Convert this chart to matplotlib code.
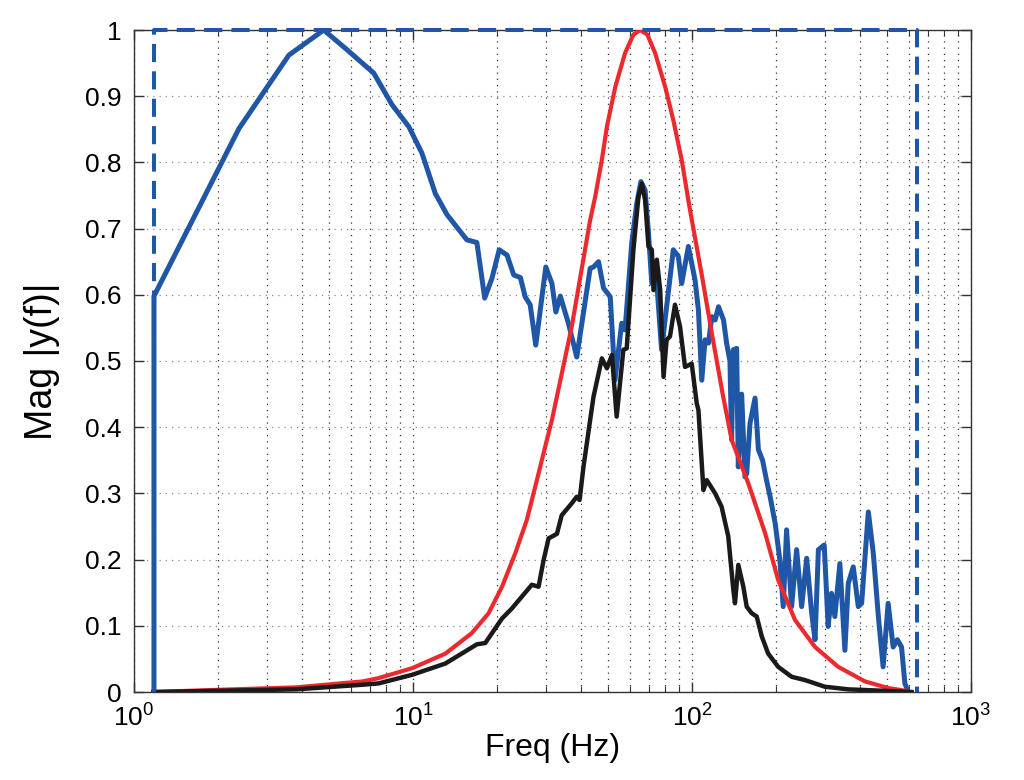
import matplotlib
matplotlib.use("Agg")
import matplotlib.pyplot as plt
from matplotlib.ticker import LogLocator, NullFormatter

plt.rcParams['font.family'] = ['Liberation Sans', 'DejaVu Sans']
plt.rcParams['mathtext.fontset'] = 'custom'
plt.rcParams['mathtext.rm'] = 'Liberation Sans'

# ---- data (log10 of frequency in Hz, magnitude) ----
blue_logf = [0.0716, 0.0716, 0.376, 0.555, 0.680, 0.764, 0.859, 0.925, 0.985, 1.032,
             1.080, 1.122, 1.193, 1.229, 1.257, 1.283, 1.309, 1.337, 1.361, 1.385,
             1.402, 1.420, 1.440, 1.476, 1.498, 1.512, 1.528, 1.557, 1.587, 1.635,
             1.647, 1.665, 1.683, 1.707, 1.724, 1.748, 1.760, 1.784, 1.802, 1.817,
             1.832, 1.844, 1.856, 1.873, 1.891, 1.909, 1.933, 1.951, 1.963, 1.987,
             2.011, 2.023, 2.035, 2.047, 2.059, 2.071, 2.083, 2.095, 2.113, 2.124,
             2.136, 2.142, 2.148, 2.160, 2.166, 2.178, 2.190, 2.196, 2.208, 2.226,
             2.238, 2.253, 2.267, 2.280, 2.298, 2.315, 2.327, 2.339, 2.357, 2.375,
             2.393, 2.411, 2.429, 2.441, 2.453, 2.474, 2.488, 2.500, 2.512, 2.530,
             2.548, 2.560, 2.578, 2.596, 2.608, 2.632, 2.650, 2.668, 2.685, 2.703,
             2.721, 2.736, 2.751, 2.763, 2.775]
blue_mag = [0.0, 0.598, 0.851, 0.962, 1.0, 0.970, 0.935, 0.887, 0.854, 0.814,
            0.753, 0.721, 0.683, 0.679, 0.595, 0.625, 0.668, 0.660, 0.630, 0.626,
            0.597, 0.585, 0.524, 0.642, 0.617, 0.574, 0.598, 0.557, 0.506, 0.640,
            0.642, 0.650, 0.610, 0.597, 0.471, 0.557, 0.547, 0.678, 0.738, 0.771,
            0.758, 0.693, 0.617, 0.622, 0.517, 0.582, 0.668, 0.658, 0.617, 0.673,
            0.622, 0.577, 0.471, 0.532, 0.527, 0.567, 0.562, 0.582, 0.562, 0.527,
            0.500, 0.381, 0.517, 0.519, 0.340, 0.450, 0.325, 0.330, 0.406, 0.444,
            0.366, 0.350, 0.320, 0.295, 0.255, 0.199, 0.129, 0.245, 0.129, 0.215,
            0.129, 0.202, 0.119, 0.079, 0.215, 0.222, 0.099, 0.149, 0.114, 0.194,
            0.063, 0.164, 0.189, 0.129, 0.134, 0.272, 0.209, 0.114, 0.038, 0.134,
            0.068, 0.079, 0.068, 0.013, 0.0]

red_logf = [0.07, 0.28, 0.58, 0.82, 0.877, 0.997, 1.116, 1.211, 1.271, 1.319,
            1.367, 1.408, 1.444, 1.474, 1.498, 1.569, 1.635, 1.653, 1.677, 1.695,
            1.725, 1.760, 1.790, 1.814, 1.840, 1.868, 1.904, 1.933, 1.963, 1.990,
            2.035, 2.071, 2.110, 2.142, 2.202, 2.262, 2.309, 2.369, 2.441, 2.524,
            2.620, 2.703, 2.763]
red_mag = [0.0, 0.003, 0.007, 0.016, 0.021, 0.036, 0.058, 0.089, 0.119, 0.159,
           0.210, 0.260, 0.320, 0.371, 0.411, 0.552, 0.713, 0.748, 0.804, 0.854,
           0.914, 0.965, 0.993, 1.0, 0.993, 0.965, 0.914, 0.864, 0.804, 0.735,
           0.630, 0.542, 0.450, 0.381, 0.315, 0.240, 0.169, 0.109, 0.068, 0.038,
           0.016, 0.006, 0.002]

black_logf = [0.07, 0.58, 0.82, 0.877, 0.997, 1.116, 1.229, 1.259, 1.319, 1.354,
              1.390, 1.426, 1.450, 1.468, 1.486, 1.516, 1.533, 1.569, 1.587, 1.597,
              1.611, 1.635, 1.647, 1.677, 1.695, 1.713, 1.730, 1.754, 1.766, 1.790,
              1.808, 1.820, 1.832, 1.844, 1.856, 1.862, 1.874, 1.886, 1.898, 1.909,
              1.921, 1.939, 1.957, 1.975, 1.999, 2.017, 2.023, 2.041, 2.053, 2.083,
              2.106, 2.130, 2.148, 2.154, 2.166, 2.184, 2.196, 2.214, 2.232, 2.250,
              2.273, 2.309, 2.357, 2.405, 2.476, 2.560, 2.679, 2.787]
black_mag = [0.0, 0.004, 0.011, 0.013, 0.026, 0.043, 0.072, 0.074, 0.111, 0.126,
             0.144, 0.162, 0.159, 0.199, 0.232, 0.239, 0.267, 0.285, 0.295, 0.290,
             0.340, 0.411, 0.446, 0.504, 0.489, 0.509, 0.416, 0.517, 0.519, 0.668,
             0.748, 0.768, 0.743, 0.673, 0.668, 0.607, 0.653, 0.607, 0.476, 0.532,
             0.537, 0.585, 0.552, 0.491, 0.496, 0.436, 0.426, 0.305, 0.320, 0.300,
             0.280, 0.235, 0.155, 0.134, 0.192, 0.159, 0.129, 0.119, 0.114, 0.084,
             0.058, 0.038, 0.023, 0.018, 0.008, 0.004, 0.002, 0.0]

band_f = [1.18, 638.0]
band_mag = [0.0, 1.0]

blue_f = [10 ** v for v in blue_logf]
red_f = [10 ** v for v in red_logf]
black_f = [10 ** v for v in black_logf]

BLUE = '#1f56a6'
RED = '#ec2a2e'
BLACK = '#1a1a1a'

fig = plt.figure(figsize=(10.24, 7.8), dpi=100)
ax = fig.add_axes([134 / 1024, 88 / 780, (971 - 134) / 1024, (692 - 30) / 780])

ax.plot(blue_f, blue_mag, color=BLUE, lw=3.6, zorder=3, solid_joinstyle='round')
ax.plot(red_f, red_mag, color=RED, lw=3.0, zorder=4)
ax.plot(black_f, black_mag, color=BLACK, lw=3.2, zorder=5, solid_joinstyle='round')

x0, x1 = band_f
y0, y1 = band_mag
ax.plot([x0, x0, x1, x1], [y0, y1, y1, y0], color=BLUE, lw=2.9,
        dashes=(4.5, 2.3), zorder=6, clip_on=False)

ax.set_xscale('log')
ax.set_xlim(1, 1000)
ax.set_ylim(0, 1)
ax.set_yticks([i / 10 for i in range(11)])
ax.set_yticklabels(['0', '0.1', '0.2', '0.3', '0.4', '0.5', '0.6', '0.7', '0.8', '0.9', '1'])
ax.xaxis.set_major_locator(LogLocator(base=10, numticks=10))
ax.xaxis.set_minor_locator(LogLocator(base=10, subs=range(2, 10), numticks=20))
ax.xaxis.set_minor_formatter(NullFormatter())

ax.grid(True, which='major', axis='y', linestyle=(0, (1, 4)), color='#8a8a8a', lw=0.9)
ax.grid(True, which='both', axis='x', linestyle=(0, (1, 4)), color='#333333', lw=0.9)

ax.tick_params(which='both', direction='in', top=True, right=True, colors='#333333',
               labelcolor='black', labelsize=19)
ax.tick_params(which='major', length=7, width=1)
ax.tick_params(which='minor', length=4, width=0.8)
ax.tick_params(axis='x', pad=9)
ax.tick_params(axis='y', pad=9)
for s in ax.spines.values():
    s.set_color('#333333')
    s.set_linewidth(1.0)

ax.set_xlabel('Freq (Hz)', fontsize=23, labelpad=1)
ax.set_ylabel('Mag |y(f)|', fontsize=27, labelpad=18)

fig.savefig('out.png', dpi=100)
